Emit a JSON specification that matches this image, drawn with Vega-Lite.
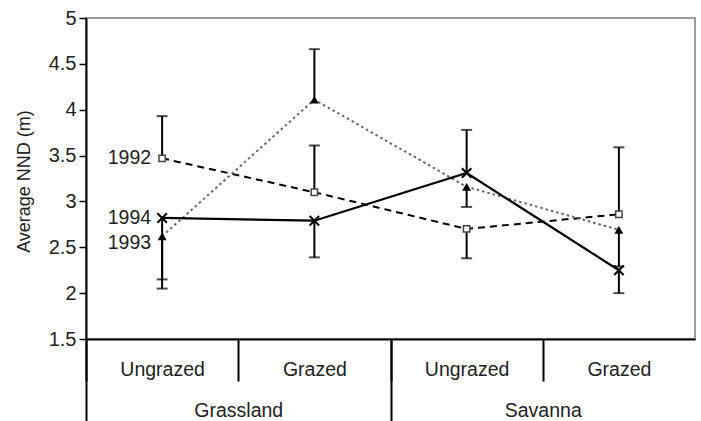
{
  "$schema": "https://vega.github.io/schema/vega-lite/v6.json",
  "width": 609,
  "height": 321,
  "autosize": {"type": "none"},
  "padding": {"left": 86, "top": 18, "right": 6, "bottom": 82},
  "background": "white",
  "config": {
    "view": {"stroke": "#9a9a9a", "strokeWidth": 2},
    "font": "Liberation Sans"
  },
  "datasets": {
    "nnd": [
      {"cat": "Grassland Ungrazed", "year": "1992", "value": 3.47, "err": 3.93},
      {"cat": "Grassland Ungrazed", "year": "1993", "value": 2.62, "err": 2.15},
      {"cat": "Grassland Ungrazed", "year": "1994", "value": 2.82, "err": 2.05},
      {"cat": "Grassland Grazed", "year": "1992", "value": 3.10, "err": 3.61},
      {"cat": "Grassland Grazed", "year": "1993", "value": 4.11, "err": 4.66},
      {"cat": "Grassland Grazed", "year": "1994", "value": 2.79, "err": 2.39},
      {"cat": "Savanna Ungrazed", "year": "1992", "value": 2.70, "err": 2.38},
      {"cat": "Savanna Ungrazed", "year": "1993", "value": 3.16, "err": 2.94},
      {"cat": "Savanna Ungrazed", "year": "1994", "value": 3.31, "err": 3.78},
      {"cat": "Savanna Grazed", "year": "1992", "value": 2.86, "err": 3.59},
      {"cat": "Savanna Grazed", "year": "1993", "value": 2.69, "err": 2.29},
      {"cat": "Savanna Grazed", "year": "1994", "value": 2.25, "err": 2.00}
    ],
    "groups": [{"group": "Grassland"}, {"group": "Savanna"}]
  },
  "layer": [
    {
      "data": {"name": "nnd"},
      "encoding": {
        "x": {
          "field": "cat",
          "type": "nominal",
          "sort": ["Grassland Ungrazed", "Grassland Grazed", "Savanna Ungrazed", "Savanna Grazed"],
          "scale": {"type": "band", "paddingInner": 0, "paddingOuter": 0},
          "axis": {
            "orient": "bottom",
            "title": null,
            "labelExpr": "split(datum.label, ' ')[1]",
            "tickBand": "extent",
            "tickSize": 42,
            "tickWidth": 2,
            "tickColor": "black",
            "tickOpacity": {"condition": {"test": "datum.value === 'Savanna Grazed'", "value": 0}, "value": 1},
            "domainColor": "black",
            "domainWidth": 2,
            "labelFontSize": 19.5,
            "labelColor": "#222",
            "labelBaseline": "alphabetic",
            "labelPadding": -6,
            "labelAngle": 0
          }
        },
        "y": {
          "field": "value",
          "type": "quantitative",
          "scale": {"domain": [1.5, 5], "nice": false, "zero": false},
          "axis": {
            "title": "Average NND (m)",
            "values": [1.5, 2, 2.5, 3, 3.5, 4, 4.5, 5],
            "format": "~g",
            "grid": false,
            "domainColor": "black",
            "domainWidth": 2,
            "tickColor": "black",
            "tickSize": 7,
            "tickWidth": 1.5,
            "labelFontSize": 20,
            "labelColor": "#222",
            "labelPadding": 3,
            "titleFontSize": 18,
            "titleFontWeight": "normal",
            "titleColor": "#222",
            "titleBaseline": "alphabetic",
            "titleX": -57,
            "titleY": 163
          }
        }
      },
      "layer": [
        {
          "transform": [{"filter": "datum.year === '1992'"}],
          "mark": {"type": "line", "color": "black", "strokeWidth": 2, "strokeDash": [7, 5]}
        },
        {
          "transform": [{"filter": "datum.year === '1993'"}],
          "mark": {"type": "line", "color": "#666", "strokeWidth": 2, "strokeDash": [2.5, 3]}
        },
        {
          "transform": [{"filter": "datum.year === '1994'"}],
          "mark": {"type": "line", "color": "black", "strokeWidth": 2.2}
        },
        {
          "mark": {"type": "rule", "color": "black", "strokeWidth": 2},
          "encoding": {"y2": {"field": "err"}}
        },
        {
          "mark": {"type": "tick", "color": "black", "size": 11, "thickness": 2},
          "encoding": {"y": {"field": "err", "type": "quantitative"}}
        },
        {
          "transform": [{"filter": "datum.year === '1992'"}],
          "mark": {"type": "point", "shape": "square", "size": 40, "filled": false, "fill": "white", "stroke": "#444", "strokeWidth": 1.5, "opacity": 1}
        },
        {
          "transform": [{"filter": "datum.year === '1993'"}],
          "mark": {"type": "point", "shape": "triangle-up", "size": 80, "filled": true, "color": "black", "opacity": 1}
        },
        {
          "transform": [{"filter": "datum.year === '1994'"}],
          "mark": {"type": "point", "shape": "M-1,-1L1,1M-1,1L1,-1", "size": 90, "filled": false, "stroke": "black", "strokeWidth": 2, "opacity": 1}
        },
        {
          "transform": [{"filter": "datum.cat === 'Grassland Ungrazed' && datum.year !== '1993'"}],
          "mark": {"type": "text", "align": "right", "baseline": "middle", "dx": -11, "fontSize": 19.5, "color": "#222"},
          "encoding": {"text": {"field": "year"}}
        },
        {
          "transform": [{"filter": "datum.cat === 'Grassland Ungrazed' && datum.year === '1993'"}],
          "mark": {"type": "text", "align": "right", "baseline": "middle", "dx": -11, "dy": 7, "fontSize": 19.5, "color": "#222"},
          "encoding": {"text": {"field": "year"}}
        }
      ]
    },
    {
      "data": {"name": "groups"},
      "mark": {"type": "point", "opacity": 0},
      "encoding": {
        "x": {
          "field": "group",
          "type": "nominal",
          "scale": {"type": "band", "paddingInner": 0, "paddingOuter": 0},
          "axis": {
            "orient": "bottom",
            "title": null,
            "tickBand": "extent",
            "tickSize": 82,
            "tickWidth": 2,
            "tickColor": "black",
            "tickOpacity": {"condition": {"test": "datum.value === 'Savanna'", "value": 0}, "value": 1},
            "domain": false,
            "labelFontSize": 19.5,
            "labelColor": "#222",
            "labelBaseline": "alphabetic",
            "labelPadding": -5,
            "labelAngle": 0
          }
        }
      }
    }
  ],
  "resolve": {"scale": {"x": "independent"}}
}
